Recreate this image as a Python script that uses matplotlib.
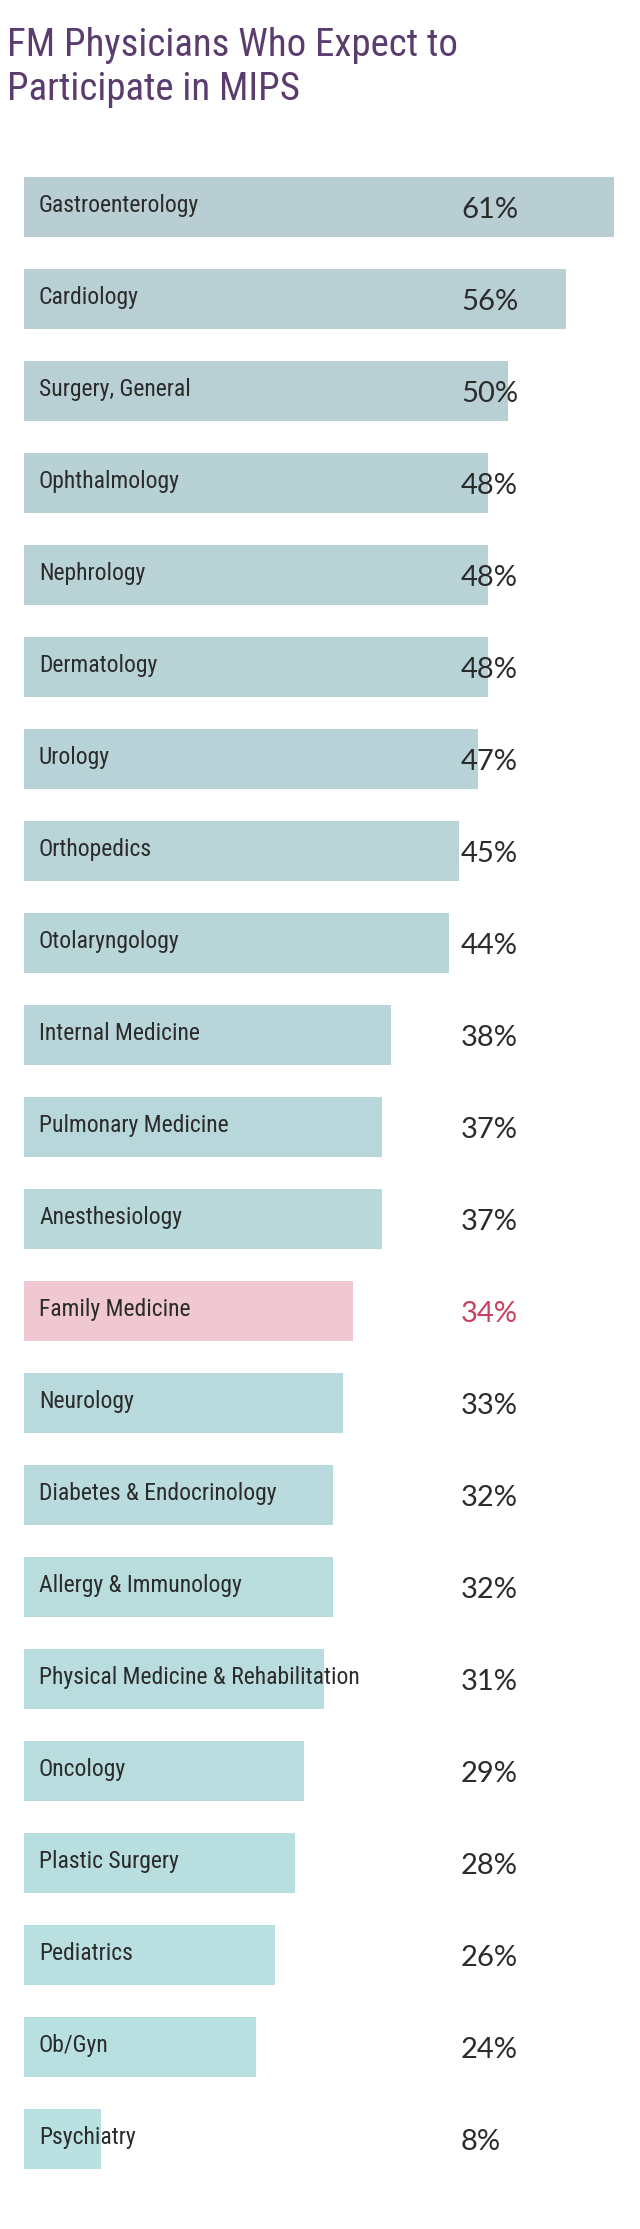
import numpy as np
import matplotlib
matplotlib.use("Agg")
import matplotlib.pyplot as plt
from matplotlib.colors import to_rgb
import matplotlib.transforms as mtransforms

specialties = [
    "Gastroenterology", "Cardiology", "Surgery, General", "Ophthalmology",
    "Nephrology", "Dermatology", "Urology", "Orthopedics", "Otolaryngology",
    "Internal Medicine", "Pulmonary Medicine", "Anesthesiology",
    "Family Medicine", "Neurology", "Diabetes & Endocrinology",
    "Allergy & Immunology", "Physical Medicine & Rehabilitation",
    "Oncology", "Plastic Surgery", "Pediatrics", "Ob/Gyn", "Psychiatry",
]
percents = [61, 56, 50, 48, 48, 48, 47, 45, 44, 38, 37, 37,
            34, 33, 32, 32, 31, 29, 28, 26, 24, 8]
highlight = "Family Medicine"

W, H, DPI = 640, 2229, 100
X0, PX_PER_PCT = 24, 9.67        # pixel of 0% and pixels per percent
Y0, PITCH, BAR_H = 207, 92, 60    # first bar centre, spacing, height (px)

TEXT = "#2b2b2b"
TITLE_COL = "#5a3c6e"
RED = "#c9405f"
PINK = "#efc8d1"
top_col = np.array(to_rgb("#b8ced2"))
bot_col = np.array(to_rgb("#b9e1e2"))

label_font = ["Roboto Condensed", "Liberation Sans Narrow", "Roboto"]
value_font = ["Lato", "DejaVu Sans"]

fig = plt.figure(figsize=(W / DPI, H / DPI), dpi=DPI)
ax = fig.add_axes([0, 0, 1, 1])
ax.set_xlim(-X0 / PX_PER_PCT, (W - X0) / PX_PER_PCT)
ax.set_ylim((H - Y0) / PITCH, -Y0 / PITCH)
ax.axis("off")

n = len(specialties)
ypos = np.arange(n)
colors = []
for i, name in enumerate(specialties):
    if name == highlight:
        colors.append(PINK)
    else:
        t = i / (n - 1)
        colors.append(tuple(top_col * (1 - t) + bot_col * t))

ax.barh(ypos, percents, height=BAR_H / PITCH, left=0, color=colors,
        edgecolor="none")

trans = mtransforms.blended_transform_factory(ax.transAxes, ax.transData)
lab_off = mtransforms.offset_copy(trans, fig=fig, y=-5, units="dots")
val_off = mtransforms.offset_copy(trans, fig=fig, y=-11, units="dots")

for y, name, pct in zip(ypos, specialties, percents):
    ax.text(39 / W, y, name, transform=lab_off, ha="left", va="baseline",
            fontsize=17, family=label_font, fontstretch="condensed",
            color=TEXT)
    ax.text(461 / W, y, f"{pct}%", transform=val_off, ha="left",
            va="baseline", fontsize=21, family=value_font,
            fontweight="normal",
            color=RED if name == highlight else TEXT)

fig.text(7 / W, 1 - 56 / H, "FM Physicians Who Expect to", ha="left",
         va="baseline", fontsize=28, family=label_font,
         fontstretch="condensed", color=TITLE_COL)
fig.text(7 / W, 1 - 100 / H, "Participate in MIPS", ha="left",
         va="baseline", fontsize=28, family=label_font,
         fontstretch="condensed", color=TITLE_COL)

fig.savefig("out.png", dpi=DPI)
